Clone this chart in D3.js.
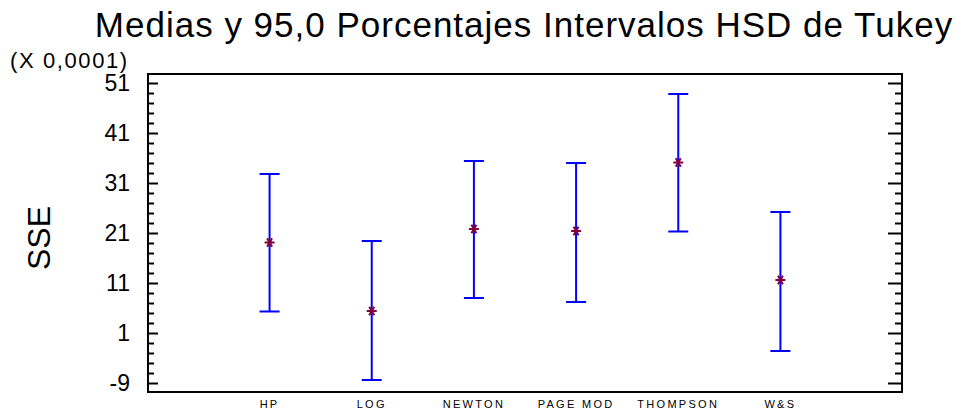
<!DOCTYPE html>
<html>
<head>
<meta charset="utf-8">
<script src="https://cdn.jsdelivr.net/npm/d3@7"></script>
<style>
  body { margin: 0; background: #fff; }
  text { font-family: "Liberation Sans", Arial, sans-serif; fill: #000; }
</style>
</head>
<body>
<script>
// data (units of 0,0001)
let categories = ["HP", "LOG", "NEWTON", "PAGE MOD", "THOMPSON", "W&S"];
let means = [19.1, 5.4, 21.8, 21.4, 35.1, 11.6];
let lowers = [5.3, -8.4, 8.0, 7.2, 21.3, -2.6];
let uppers = [32.8, 19.4, 35.4, 35.0, 48.8, 25.2];
let yTicks = [-9, 1, 11, 21, 31, 41, 51];

let width = 961, height = 410;
let margin = {top: 74, right: 59, bottom: 18, left: 148};

let svg = d3.select("body").append("svg")
    .attr("width", width)
    .attr("height", height);

let x = d3.scalePoint()
    .domain(categories)
    .range([margin.left, width - margin.right])
    .padding(1.19);

let y = d3.scaleLinear()
    .domain([-10.8, 52.8])
    .range([height - margin.bottom, margin.top]);

let minor = d3.range(-9, 52, 2).filter(function (d) { return yTicks.indexOf(d) < 0; });

// left axis ticks (inward)
let gl = svg.append("g").attr("transform", "translate(" + margin.left + ",0)");
gl.append("g").call(d3.axisRight(y).tickValues(yTicks).tickSize(10).tickFormat(""))
    .call(function (g) { g.select(".domain").remove(); g.selectAll("line").attr("stroke-width", 2); });
gl.append("g").call(d3.axisRight(y).tickValues(minor).tickSize(6).tickFormat(""))
    .call(function (g) { g.select(".domain").remove(); g.selectAll("line").attr("stroke-width", 2); });

// right axis ticks (inward)
let gr = svg.append("g").attr("transform", "translate(" + (width - margin.right) + ",0)");
gr.append("g").call(d3.axisLeft(y).tickValues(yTicks).tickSize(14).tickFormat(""))
    .call(function (g) { g.select(".domain").remove(); g.selectAll("line").attr("stroke-width", 2); });
gr.append("g").call(d3.axisLeft(y).tickValues(minor).tickSize(7).tickFormat(""))
    .call(function (g) { g.select(".domain").remove(); g.selectAll("line").attr("stroke-width", 2); });

// frame
svg.append("rect")
    .attr("x", margin.left)
    .attr("y", margin.top)
    .attr("width", width - margin.left - margin.right)
    .attr("height", height - margin.top - margin.bottom)
    .attr("fill", "none")
    .attr("stroke", "#000")
    .attr("stroke-width", 2);

// y tick labels
svg.selectAll(".ylab").data(yTicks).enter().append("text")
    .attr("class", "ylab")
    .attr("x", margin.left - 18)
    .attr("y", function (d) { return y(d); })
    .attr("dy", "0.36em")
    .attr("text-anchor", "end")
    .attr("font-size", "23px")
    .text(function (d) { return d; });

// x labels
svg.selectAll(".xlab").data(categories).enter().append("text")
    .attr("class", "xlab")
    .attr("x", function (d) { return x(d); })
    .attr("y", 408)
    .attr("text-anchor", "middle")
    .attr("font-size", "11px")
    .attr("letter-spacing", "2.3px")
    .text(function (d) { return d; });

// intervals
let bars = svg.selectAll(".bar").data(categories).enter().append("g").attr("class", "bar");
bars.append("line")
    .attr("x1", function (d) { return x(d); })
    .attr("x2", function (d) { return x(d); })
    .attr("y1", function (d, i) { return y(lowers[i]); })
    .attr("y2", function (d, i) { return y(uppers[i]); })
    .attr("stroke", "#0000ff").attr("stroke-width", 2);
bars.append("line")
    .attr("x1", function (d) { return x(d) - 10; })
    .attr("x2", function (d) { return x(d) + 10; })
    .attr("y1", function (d, i) { return y(lowers[i]); })
    .attr("y2", function (d, i) { return y(lowers[i]); })
    .attr("stroke", "#0000ff").attr("stroke-width", 2);
bars.append("line")
    .attr("x1", function (d) { return x(d) - 10; })
    .attr("x2", function (d) { return x(d) + 10; })
    .attr("y1", function (d, i) { return y(uppers[i]); })
    .attr("y2", function (d, i) { return y(uppers[i]); })
    .attr("stroke", "#0000ff").attr("stroke-width", 2);

// mean markers
let star = d3.symbol().type(d3.symbolAsterisk).size(70);
bars.append("path")
    .attr("d", star)
    .attr("transform", function (d, i) { return "translate(" + x(d) + "," + y(means[i]) + ") rotate(30)"; })
    .attr("fill", "none")
    .attr("stroke", "#800040")
    .attr("stroke-width", 2);

// title and labels
svg.append("text")
    .attr("x", 524)
    .attr("y", 37)
    .attr("text-anchor", "middle")
    .attr("font-size", "35px")
    .attr("letter-spacing", "1px")
    .text("Medias y 95,0 Porcentajes Intervalos HSD de Tukey");

svg.append("text")
    .attr("x", 10)
    .attr("y", 68)
    .attr("font-size", "22px")
    .attr("letter-spacing", "1.6px")
    .text("(X 0,0001)");

svg.append("text")
    .attr("transform", "translate(50," + y(20) + ") rotate(-90)")
    .attr("text-anchor", "middle")
    .attr("font-size", "32px")
    .text("SSE");
</script>
</body>
</html>
